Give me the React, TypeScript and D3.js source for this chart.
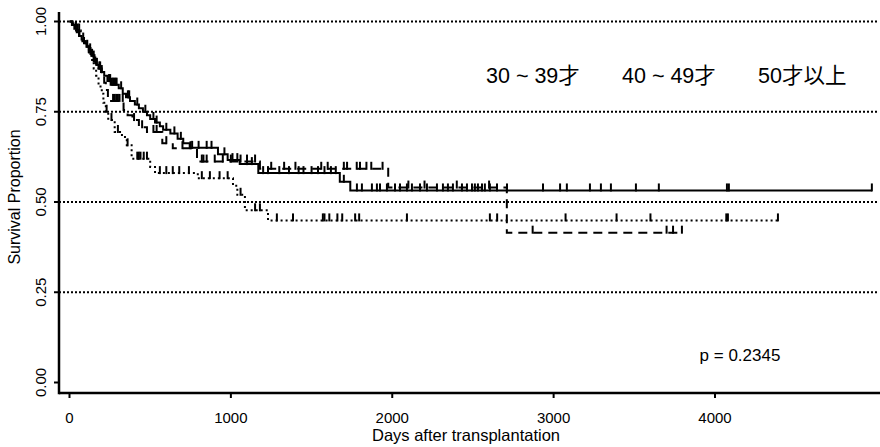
import React from "react";
import * as d3 from "d3";

const W = 880;
const H = 447;

// Axis ticks
const xTicks = [0, 1000, 2000, 3000, 4000];
const yTicks = [0, 0.25, 0.5, 0.75, 1];
const yTickLabels = ["0.00", "0.25", "0.50", "0.75", "1.00"];
const gridLevels = [0.25, 0.5, 0.75, 1];

// Group names (legend)
const groupLabels = ["30 ~ 39才", "40 ~ 49才", "50才以上"];

// Kaplan–Meier steps: [day, survival after the event]
const steps30: [number, number][] = [
  [15, 0.99], [30, 0.98], [45, 0.97], [60, 0.96], [75, 0.95], [90, 0.94], [105, 0.93],
  [120, 0.92], [135, 0.905], [150, 0.89], [165, 0.88], [180, 0.87], [195, 0.86],
  [215, 0.85], [235, 0.835], [255, 0.825], [305, 0.815], [330, 0.8], [350, 0.79],
  [375, 0.78], [405, 0.77], [430, 0.76], [455, 0.75], [480, 0.74], [500, 0.73],
  [530, 0.72], [560, 0.71], [580, 0.7], [625, 0.69], [670, 0.675], [705, 0.663],
  [745, 0.65], [920, 0.632], [980, 0.616], [1055, 0.605], [1170, 0.58],
  [1675, 0.556], [1740, 0.532],
];
const censor30 = [
  40, 60, 85, 110, 128, 140, 155, 170, 185, 200, 245, 252, 262, 270, 278, 285, 292,
  320, 362, 370, 420, 470, 520, 540, 600, 650, 690, 760, 800, 850, 880, 960, 1010,
  1040, 1100, 1130, 1200, 1230, 1300, 1360, 1420, 1450, 1500, 1540, 1580, 1620,
  1650, 1700, 1781, 1812, 1874, 1905, 1924, 1967, 2017, 2048, 2091, 2122, 2172,
  2215, 2277, 2314, 2345, 2376, 2432, 2463, 2494, 2512, 2531, 2556, 2574, 2605,
  2649, 2711, 2934, 3040, 3082, 3225, 3293, 3355, 3510, 3652, 4074, 4086, 4972,
];

const steps40: [number, number][] = [
  [20, 0.99], [40, 0.975], [60, 0.96], [80, 0.945], [100, 0.93], [120, 0.915],
  [140, 0.9], [160, 0.885], [180, 0.87], [200, 0.85], [215, 0.83], [225, 0.81],
  [238, 0.79], [250, 0.78], [335, 0.755], [360, 0.74], [390, 0.727], [430, 0.707],
  [480, 0.694], [575, 0.663], [640, 0.649], [790, 0.612], [1180, 0.592],
  [1975, 0.54], [2710, 0.415],
];
const censor40 = [
  50, 120, 150, 190, 270, 280, 290, 300, 310, 330, 400, 450, 520, 540, 600, 700, 750,
  820, 830, 850, 900, 950, 1000, 1060, 1100, 1150, 1250, 1330, 1400, 1560, 1600,
  1700, 1720, 1780, 1800, 1840, 1870, 1940, 2100, 2200, 2400, 2600, 2870, 3700,
  3740, 3795,
];

const steps50: [number, number][] = [
  [25, 0.99], [45, 0.975], [70, 0.96], [90, 0.945], [110, 0.93], [125, 0.91],
  [140, 0.89], [150, 0.87], [165, 0.85], [180, 0.82], [200, 0.8], [210, 0.775],
  [225, 0.75], [240, 0.727], [280, 0.694], [325, 0.68], [355, 0.657], [385, 0.62],
  [500, 0.597], [530, 0.58], [795, 0.566], [1013, 0.545], [1040, 0.52],
  [1087, 0.477], [1230, 0.449],
];
const censor50 = [
  60, 130, 230, 260, 300, 360, 420, 430, 440, 460, 480, 560, 600, 640, 680, 740, 820,
  870, 930, 980, 1060, 1150, 1180, 1285, 1385, 1570, 1580, 1610, 1660, 1690, 1770,
  1795, 2091, 2605, 2650, 3074, 3390, 3600, 4070, 4080, 4390,
];

const groups = [
  { steps: steps30, censor: censor30, dash: "none" },
  { steps: steps40, censor: censor40, dash: "9,6" },
  { steps: steps50, censor: censor50, dash: "2,3" },
];

const x = d3.scaleLinear().domain([0, 4000]).range([69.5, 715]);
const y = d3.scaleLinear().domain([0, 1]).range([382.5, 21.5]);

const font = "'Liberation Sans', Arial, Helvetica, sans-serif";
const cjkFont = "'Liberation Sans', Arial, 'Noto Sans CJK JP', sans-serif";

function survAt(steps: [number, number][], t: number): number {
  const i = d3.bisector((d: [number, number]) => d[0]).right(steps, t);
  return i === 0 ? 1 : steps[i - 1][1];
}

const line = d3
  .line<[number, number]>()
  .x((d) => x(d[0]))
  .y((d) => y(d[1]))
  .curve(d3.curveStepAfter);

export default function App() {
  const axisLeft = 59;
  const axisBottom = 393;
  return (
    <svg
      width={W}
      height={H}
      viewBox={`0 0 ${W} ${H}`}
      style={{ position: "absolute", left: 0, top: 0, background: "#fff" }}
    >
      <rect width={W} height={H} fill="#fff" />

      {/* reference lines */}
      {gridLevels.map((g) => (
        <line
          key={g}
          x1={axisLeft}
          x2={878}
          y1={y(g)}
          y2={y(g)}
          stroke="#000"
          strokeWidth={2}
          strokeDasharray="2,2"
        />
      ))}

      {/* survival curves */}
      {groups.map((g, gi) => {
        const end = Math.max(d3.max(g.censor) ?? 0, g.steps[g.steps.length - 1][0]);
        const pts: [number, number][] = [[0, 1], ...g.steps, [end, survAt(g.steps, end)]];
        return (
          <g key={gi}>
            <path
              d={line(pts) ?? ""}
              fill="none"
              stroke="#000"
              strokeWidth={2}
              strokeDasharray={g.dash}
            />
            {g.censor.map((t, i) => {
              const s = survAt(g.steps, t);
              return (
                <line
                  key={i}
                  x1={x(t)}
                  x2={x(t)}
                  y1={y(s) + 1}
                  y2={y(s) - 7}
                  stroke="#000"
                  strokeWidth={2}
                />
              );
            })}
          </g>
        );
      })}

      {/* axes box (left and bottom) */}
      <line x1={axisLeft} x2={axisLeft} y1={12} y2={axisBottom + 1.2} stroke="#000" strokeWidth={2.5} />
      <line x1={axisLeft} x2={880} y1={axisBottom} y2={axisBottom} stroke="#000" strokeWidth={2.5} />

      {xTicks.map((t) => (
        <g key={t}>
          <line x1={x(t)} x2={x(t)} y1={axisBottom} y2={axisBottom + 5} stroke="#000" strokeWidth={2} />
          <text x={x(t)} y={423} textAnchor="middle" fontFamily={font} fontSize={15}>
            {t}
          </text>
        </g>
      ))}
      {yTicks.map((t, i) => (
        <g key={t}>
          <line x1={axisLeft - 5} x2={axisLeft} y1={y(t)} y2={y(t)} stroke="#000" strokeWidth={2} />
          <text
            transform={`translate(45.5,${y(t)}) rotate(-90)`}
            textAnchor="middle"
            fontFamily={font}
            fontSize={15}
          >
            {yTickLabels[i]}
          </text>
        </g>
      ))}

      <text x={466} y={441} textAnchor="middle" fontFamily={font} fontSize={16.5}>
        Days after transplantation
      </text>
      <text
        transform={`translate(20,197) rotate(-90)`}
        textAnchor="middle"
        fontFamily={font}
        fontSize={16}
      >
        Survival Proportion
      </text>

      {/* legend labels */}
      {groupLabels.map((lab, i) => (
        <text key={lab} x={[486, 622, 758][i]} y={83} fontFamily={cjkFont} fontSize={21.5}>
          {lab}
        </text>
      ))}

      <text x={740} y={361} textAnchor="middle" fontFamily={font} fontSize={17}>
        p = 0.2345
      </text>
    </svg>
  );
}
